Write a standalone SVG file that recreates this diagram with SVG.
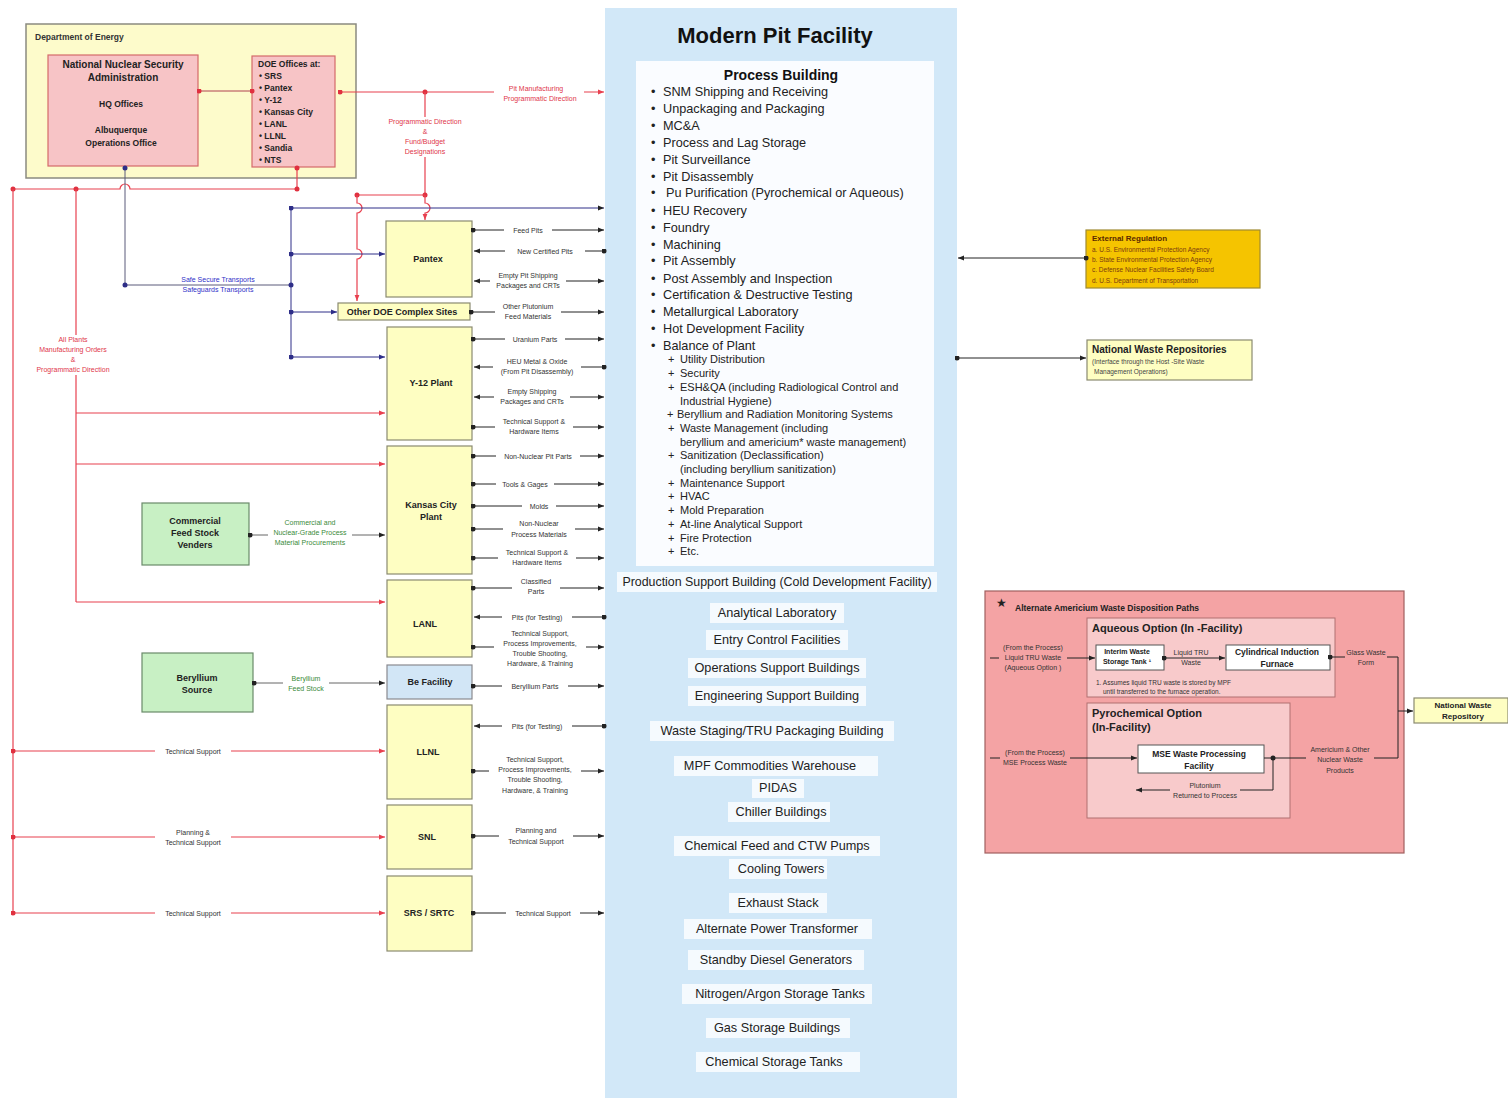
<svg xmlns="http://www.w3.org/2000/svg" width="1508" height="1098" viewBox="0 0 1508 1098">
<style>
text{font-family:"Liberation Sans",Arial,Helvetica,sans-serif;}
.k{stroke:#222;stroke-width:1;fill:none}
.r{stroke:#e8404f;stroke-width:1.2;fill:none}
.b{stroke:#2e2e88;stroke-width:1;fill:none}
.gy{stroke:#5a5a7a;stroke-width:1;fill:none}
.gr{stroke:#666;stroke-width:1;fill:none}
.ybox{fill:#fefec2;stroke:#8a8a70;stroke-width:1.2}
.pbox{fill:#f7c4c6;stroke:#d46a6a;stroke-width:1.2}
.gbox{fill:#c8f0c4;stroke:#6a8a6a;stroke-width:1.2}
.nl{font-size:9px;font-weight:bold;fill:#222;text-anchor:middle}
.lb{font-size:7px;fill:#333;text-anchor:middle}
.rl{font-size:7px;fill:#e0364a;text-anchor:middle}
.bl{font-size:7px;fill:#3030c8;text-anchor:middle}
.gl{font-size:7px;fill:#3a8a3a;text-anchor:middle}
.bgw{fill:#fff}
.bgp{fill:#f4a3a4}
.bgq{fill:#f8cacb}
.pi{font-size:12.7px;fill:#222}
.si{font-size:11px;fill:#222}
.li{font-size:12.7px;fill:#222;text-anchor:middle}
.wb{fill:#f5fafe}
</style>
<defs>
<marker id="aK" viewBox="0 0 10 10" refX="10" refY="5" markerWidth="6" markerHeight="6" markerUnits="userSpaceOnUse" orient="auto-start-reverse"><path d="M0,1L10,5L0,9z" fill="#222"/></marker>
<marker id="aR" viewBox="0 0 10 10" refX="10" refY="5" markerWidth="6" markerHeight="6" markerUnits="userSpaceOnUse" orient="auto-start-reverse"><path d="M0,1L10,5L0,9z" fill="#e8404f"/></marker>
<marker id="aB" viewBox="0 0 10 10" refX="10" refY="5" markerWidth="6" markerHeight="6" markerUnits="userSpaceOnUse" orient="auto-start-reverse"><path d="M0,1L10,5L0,9z" fill="#2e2e88"/></marker>
<marker id="dK" viewBox="0 0 10 10" refX="5" refY="5" markerWidth="5" markerHeight="5" markerUnits="userSpaceOnUse"><circle cx="5" cy="5" r="5" fill="#222"/></marker>
<marker id="dR" viewBox="0 0 10 10" refX="5" refY="5" markerWidth="5" markerHeight="5" markerUnits="userSpaceOnUse"><circle cx="5" cy="5" r="5" fill="#e0303f"/></marker>
<marker id="dB" viewBox="0 0 10 10" refX="5" refY="5" markerWidth="5" markerHeight="5" markerUnits="userSpaceOnUse"><circle cx="5" cy="5" r="5" fill="#2e2e88"/></marker>
</defs>
<rect width="1508" height="1098" fill="#fff"/>

<!-- MPF -->
<g id="mpf">
<rect x="605" y="8" width="352" height="1090" fill="#d2e8f8"/>
<text x="775" y="43" font-size="22" font-weight="bold" text-anchor="middle" fill="#111">Modern Pit Facility</text>
<rect x="636" y="61" width="298" height="505" fill="#fafcff"/>
<text x="781" y="80" font-size="14" font-weight="bold" text-anchor="middle" fill="#111">Process Building</text>
<g class="pi">
<text x="651" y="96">•</text><text x="663" y="96">SNM Shipping and Receiving</text>
<text x="651" y="113">•</text><text x="663" y="113">Unpackaging and Packaging</text>
<text x="651" y="130">•</text><text x="663" y="130">MC&amp;A</text>
<text x="651" y="147">•</text><text x="663" y="147">Process and Lag Storage</text>
<text x="651" y="164">•</text><text x="663" y="164">Pit Surveillance</text>
<text x="651" y="181">•</text><text x="663" y="181">Pit Disassembly</text>
<text x="651" y="197">•</text><text x="666" y="197">Pu Purification (Pyrochemical or Aqueous)</text>
<text x="651" y="215">•</text><text x="663" y="215">HEU Recovery</text>
<text x="651" y="232">•</text><text x="663" y="232">Foundry</text>
<text x="651" y="249">•</text><text x="663" y="249">Machining</text>
<text x="651" y="265">•</text><text x="663" y="265">Pit Assembly</text>
<text x="651" y="283">•</text><text x="663" y="283">Post Assembly and Inspection</text>
<text x="651" y="299">•</text><text x="663" y="299">Certification &amp; Destructive Testing</text>
<text x="651" y="316">•</text><text x="663" y="316">Metallurgical Laboratory</text>
<text x="651" y="333">•</text><text x="663" y="333">Hot Development Facility</text>
<text x="651" y="350">•</text><text x="663" y="350">Balance of Plant</text>
</g>
<g class="si">
<text x="668" y="363">+</text><text x="680" y="363">Utility Distribution</text>
<text x="668" y="377">+</text><text x="680" y="377">Security</text>
<text x="668" y="391">+</text><text x="680" y="391">ESH&amp;QA (including Radiological Control and</text>
<text x="680" y="405">Industrial Hygiene)</text>
<text x="667" y="418">+</text><text x="677" y="418">Beryllium and Radiation Monitoring Systems</text>
<text x="668" y="432">+</text><text x="680" y="432">Waste Management (including</text>
<text x="680" y="446">beryllium and americium* waste management)</text>
<text x="668" y="459">+</text><text x="680" y="459">Sanitization (Declassification)</text>
<text x="680" y="473">(including beryllium sanitization)</text>
<text x="668" y="487">+</text><text x="680" y="487">Maintenance Support</text>
<text x="668" y="500">+</text><text x="680" y="500">HVAC</text>
<text x="668" y="514">+</text><text x="680" y="514">Mold Preparation</text>
<text x="668" y="528">+</text><text x="680" y="528">At-line Analytical Support</text>
<text x="668" y="542">+</text><text x="680" y="542">Fire Protection</text>
<text x="668" y="555">+</text><text x="680" y="555">Etc.</text>
</g>
<rect class="wb" x="617" y="572" width="320" height="20"/>
<text x="777" y="586" font-size="12.4" text-anchor="middle" fill="#222">Production Support Building (Cold Development Facility)</text>
<rect class="wb" x="710" y="603" width="134" height="20"/><text class="li" x="777" y="617">Analytical Laboratory</text>
<rect class="wb" x="706" y="630" width="142" height="20"/><text class="li" x="777" y="644">Entry Control Facilities</text>
<rect class="wb" x="688" y="658" width="178" height="20"/><text class="li" x="777" y="672">Operations Support Buildings</text>
<rect class="wb" x="688" y="686" width="178" height="20"/><text class="li" x="777" y="700">Engineering Support Building</text>
<rect class="wb" x="650" y="721" width="244" height="20"/><text class="li" x="772" y="735">Waste Staging/TRU Packaging Building</text>
<rect class="wb" x="674" y="756" width="204" height="20"/><text class="li" x="770" y="770">MPF Commodities Warehouse</text>
<rect class="wb" x="752" y="779" width="52" height="19"/><text class="li" x="778" y="792">PIDAS</text>
<rect class="wb" x="728" y="802" width="102" height="20"/><text class="li" x="781" y="816">Chiller Buildings</text>
<rect class="wb" x="674" y="836" width="206" height="20"/><text class="li" x="777" y="850">Chemical Feed and CTW Pumps</text>
<rect class="wb" x="729" y="859" width="98" height="20"/><text class="li" x="781" y="873">Cooling Towers</text>
<rect class="wb" x="729" y="893" width="98" height="20"/><text class="li" x="778" y="907">Exhaust Stack</text>
<rect class="wb" x="684" y="919" width="188" height="20"/><text class="li" x="777" y="933">Alternate Power Transformer</text>
<rect class="wb" x="688" y="950" width="176" height="20"/><text class="li" x="776" y="964">Standby Diesel Generators</text>
<rect class="wb" x="682" y="984" width="190" height="20"/><text class="li" x="780" y="998">Nitrogen/Argon Storage Tanks</text>
<rect class="wb" x="706" y="1018" width="144" height="20"/><text class="li" x="777" y="1032">Gas Storage Buildings</text>
<rect class="wb" x="696" y="1052" width="164" height="20"/><text class="li" x="774" y="1066">Chemical Storage Tanks</text>
</g>

<!-- DOE -->
<g id="doe">
<rect x="26" y="24" width="330" height="154" fill="#fdfbcb" stroke="#8a8a80" stroke-width="1.5"/>
<text x="35" y="40" font-size="8.5" font-weight="bold" fill="#333">Department of Energy</text>
</g>
<g id="nnsa">
<rect class="pbox" x="48" y="55" width="150" height="111"/>
<text x="123" y="68" font-size="10" font-weight="bold" text-anchor="middle" fill="#222">National Nuclear Security</text>
<text x="123" y="81" font-size="10" font-weight="bold" text-anchor="middle" fill="#222">Administration</text>
<text x="121" y="107" font-size="8.5" font-weight="bold" text-anchor="middle" fill="#222">HQ Offices</text>
<text x="121" y="133" font-size="8.5" font-weight="bold" text-anchor="middle" fill="#222">Albuquerque</text>
<text x="121" y="146" font-size="8.5" font-weight="bold" text-anchor="middle" fill="#222">Operations Office</text>
</g>
<g id="doeoffices" font-size="8.5" font-weight="bold" fill="#222">
<rect class="pbox" x="252" y="56" width="83" height="111"/>
<text x="258" y="67">DOE Offices at:</text>
<text x="259" y="79">• SRS</text>
<text x="259" y="91">• Pantex</text>
<text x="259" y="103">• Y-12</text>
<text x="259" y="115">• Kansas City</text>
<text x="259" y="127">• LANL</text>
<text x="259" y="139">• LLNL</text>
<text x="259" y="151">• Sandia</text>
<text x="259" y="163">• NTS</text>
</g>

<!-- Site nodes -->
<g id="pantex"><rect class="ybox" x="386" y="221" width="86" height="76"/><text class="nl" x="428" y="262">Pantex</text></g>
<g id="otherdoe"><rect class="ybox" x="338" y="303" width="132" height="17"/><text class="nl" x="402" y="315">Other DOE Complex Sites</text></g>
<g id="y12"><rect class="ybox" x="387" y="327" width="85" height="113"/><text class="nl" x="431" y="386">Y-12 Plant</text></g>
<g id="kcp"><rect class="ybox" x="387" y="446" width="85" height="128"/><text class="nl" x="431" y="508">Kansas City</text><text class="nl" x="431" y="520">Plant</text></g>
<g id="lanl"><rect class="ybox" x="387" y="580" width="85" height="77"/><text class="nl" x="425" y="627">LANL</text></g>
<g id="befac"><rect x="387" y="665" width="85" height="34" fill="#d2e6f6" stroke="#8a8a90" stroke-width="1.2"/><text class="nl" x="430" y="685">Be Facility</text></g>
<g id="llnl"><rect class="ybox" x="387" y="705" width="85" height="94"/><text class="nl" x="428" y="755">LLNL</text></g>
<g id="snl"><rect class="ybox" x="387" y="805" width="85" height="64"/><text class="nl" x="427" y="840">SNL</text></g>
<g id="srs"><rect class="ybox" x="387" y="876" width="85" height="75"/><text class="nl" x="429" y="916">SRS / SRTC</text></g>
<g id="cfsv"><rect class="gbox" x="142" y="503" width="107" height="62"/><text class="nl" x="195" y="524">Commercial</text><text class="nl" x="195" y="536">Feed Stock</text><text class="nl" x="195" y="548">Venders</text></g>
<g id="beso"><rect class="gbox" x="142" y="653" width="111" height="59"/><text class="nl" x="197" y="681">Beryllium</text><text class="nl" x="197" y="693">Source</text></g>

<!-- External -->
<g id="extreg">
<rect x="1086" y="230" width="174" height="58" fill="#f5c400" stroke="#a08a30" stroke-width="1.2"/>
<text x="1092" y="241" font-size="8" font-weight="bold" fill="#5a2a00">External Regulation</text>
<g font-size="6.5" fill="#7a3a10">
<text x="1092" y="252">a.  U.S. Environmental Protection Agency</text>
<text x="1092" y="262">b.  State Environmental Protection Agency</text>
<text x="1092" y="272">c.  Defense Nuclear Facilities Safety Board</text>
<text x="1092" y="283">d.  U.S. Department of Transportation</text>
</g>
</g>
<g id="nwrs">
<rect class="ybox" x="1087" y="340" width="165" height="40"/>
<text x="1092" y="353" font-size="10" font-weight="bold" fill="#222">National Waste Repositories</text>
<text x="1092" y="364" font-size="6.5" fill="#444">(Interface through the Host  -Site Waste</text>
<text x="1094" y="374" font-size="6.5" fill="#444">Management Operations)</text>
</g>

<!-- Americium box -->
<g id="americium">
<rect x="985" y="591" width="419" height="262" fill="#f4a3a4" stroke="#a06060" stroke-width="1.2"/>
<text x="996" y="607" font-size="12" fill="#222">★</text>
<text x="1015" y="611" font-size="8.5" font-weight="bold" fill="#222">Alternate Americium Waste Disposition Paths</text>
</g>
<g id="aqueous">
<rect x="1087" y="618" width="248" height="79" fill="#f8cacb" stroke="#b07070" stroke-width="1"/>
<text x="1092" y="632" font-size="11" font-weight="bold" fill="#222">Aqueous Option (In -Facility)</text>
<text x="1096" y="685" font-size="6.5" fill="#333">1.  Assumes liquid TRU waste is stored by MPF</text>
<text x="1103" y="694" font-size="6.5" fill="#333">until transferred to the furnace operation.</text>
</g>
<g id="interim"><rect x="1096" y="645" width="68" height="25" fill="#fff" stroke="#555"/><text x="1127" y="654" font-size="7" font-weight="bold" text-anchor="middle" fill="#222">Interim Waste</text><text x="1127" y="664" font-size="7" font-weight="bold" text-anchor="middle" fill="#222">Storage Tank  ¹</text></g>
<g id="furnace"><rect x="1226" y="645" width="104" height="25" fill="#fff" stroke="#555"/><text x="1277" y="655" font-size="8.5" font-weight="bold" text-anchor="middle" fill="#222">Cylindrical Induction</text><text x="1277" y="667" font-size="8.5" font-weight="bold" text-anchor="middle" fill="#222">Furnace</text></g>
<g id="pyro">
<rect x="1087" y="703" width="203" height="115" fill="#f8cacb" stroke="#b07070" stroke-width="1"/>
<text x="1092" y="717" font-size="11" font-weight="bold" fill="#222">Pyrochemical  Option</text>
<text x="1092" y="731" font-size="11" font-weight="bold" fill="#222">(In-Facility)</text>
</g>
<g id="mse"><rect x="1138" y="745" width="126" height="28" fill="#fff" stroke="#555"/><text x="1199" y="757" font-size="8.5" font-weight="bold" text-anchor="middle" fill="#222">MSE Waste Processing</text><text x="1199" y="769" font-size="8.5" font-weight="bold" text-anchor="middle" fill="#222">Facility</text></g>
<g id="nwr"><rect class="ybox" x="1414" y="698" width="94" height="25"/><text x="1463" y="708" font-size="8" font-weight="bold" text-anchor="middle" fill="#222">National Waste</text><text x="1463" y="719" font-size="8" font-weight="bold" text-anchor="middle" fill="#222">Repository</text></g>

<!-- Connectors -->
<g id="connectors">
<line x1="199" y1="91" x2="252" y2="91" stroke="#b04050" stroke-width="1" marker-start="url(#dR)" marker-end="url(#dR)"/>
<line class="r" x1="340" y1="92" x2="604" y2="92" marker-start="url(#dR)" marker-end="url(#aR)"/>
<circle cx="425" cy="92" r="2.5" fill="#e0303f"/>
<path class="r" d="M425,92V195"/>
<circle cx="425" cy="195" r="2.5" fill="#e0303f"/>
<path class="r" d="M357,195H425"/>
<circle cx="357" cy="195" r="2.5" fill="#e0303f"/>
<path class="r" d="M425,195V203a5,5 0 0 1 0,10V220" marker-end="url(#aR)"/>
<path class="r" d="M357,195V203a5,5 0 0 1 0,10V249a5,5 0 0 1 0,10V301" marker-end="url(#aR)"/>
<path class="r" d="M297,168V189"/>
<circle cx="297" cy="168" r="2.5" fill="#e0303f"/>
<path class="r" d="M13,189H120a5,5 0 0 1 10,0H297"/>
<circle cx="297" cy="189" r="2.5" fill="#e0303f"/>
<circle cx="76" cy="189" r="2.5" fill="#e0303f"/>
<circle cx="13" cy="189" r="2.5" fill="#e0303f"/>
<path class="r" d="M13,189V913"/>
<path class="r" d="M76,189V602"/>
<rect class="bgw" x="31" y="335" width="84" height="40"/>
<text class="rl" x="73" y="342">All Plants</text>
<text class="rl" x="73" y="352">Manufacturing Orders</text>
<text class="rl" x="73" y="362">&amp;</text>
<text class="rl" x="73" y="372">Programmatic Direction</text>
<path class="r" d="M76,413H385" marker-end="url(#aR)"/>
<path class="r" d="M76,464H385" marker-end="url(#aR)"/>
<path class="r" d="M76,602H385" marker-end="url(#aR)"/>
<line class="r" x1="13" y1="751" x2="385" y2="751" marker-start="url(#dR)" marker-end="url(#aR)"/>
<line class="r" x1="13" y1="837" x2="385" y2="837" marker-start="url(#dR)" marker-end="url(#aR)"/>
<line class="r" x1="13" y1="913" x2="385" y2="913" marker-start="url(#dR)" marker-end="url(#aR)"/>
<rect class="bgw" x="155" y="746" width="76" height="10"/>
<text class="lb" x="193" y="754">Technical Support</text>
<rect class="bgw" x="155" y="828" width="76" height="19"/>
<text class="lb" x="193" y="835">Planning &amp;</text>
<text class="lb" x="193" y="845">Technical Support</text>
<rect class="bgw" x="155" y="908" width="76" height="10"/>
<text class="lb" x="193" y="916">Technical Support</text>
<rect class="bgw" x="494" y="84" width="90" height="20"/>
<text class="rl" x="536" y="91">Pit Manufacturing</text>
<text class="rl" x="540" y="101">Programmatic Direction</text>
<rect class="bgw" x="384" y="117" width="82" height="40"/>
<text class="rl" x="425" y="124">Programmatic Direction</text>
<text class="rl" x="425" y="134">&amp;</text>
<text class="rl" x="425" y="144">Fund/Budget</text>
<text class="rl" x="425" y="154">Designations</text>
<path class="gy" d="M125,168V285H291"/>
<circle cx="125" cy="168" r="2.5" fill="#2e2e88"/>
<circle cx="125" cy="285" r="2.5" fill="#2e2e88"/>
<path class="b" d="M291,208V357"/>
<line class="b" x1="291" y1="208" x2="604" y2="208" marker-start="url(#dB)" marker-end="url(#aK)"/>
<line class="b" x1="291" y1="254" x2="385" y2="254" marker-start="url(#dB)" marker-end="url(#aB)"/>
<circle cx="291" cy="285" r="2.5" fill="#2e2e88"/>
<line class="b" x1="291" y1="312" x2="337" y2="312" marker-start="url(#dB)" marker-end="url(#aB)"/>
<line class="b" x1="291" y1="357" x2="385" y2="357" marker-start="url(#dB)" marker-end="url(#aB)"/>
<rect class="bgw" x="176" y="286" width="84" height="9"/>
<text class="bl" x="218" y="282">Safe Secure Transports</text>
<text class="bl" x="218" y="292">Safeguards Transports</text>
<line class="gr" x1="250" y1="535" x2="385" y2="535" marker-start="url(#dK)" marker-end="url(#aK)"/>
<rect class="bgw" x="268" y="518" width="84" height="30"/>
<text class="gl" x="310" y="525">Commercial and</text>
<text class="gl" x="310" y="535">Nuclear-Grade Process</text>
<text class="gl" x="310" y="545">Material Procurements</text>
<line class="gr" x1="254" y1="683" x2="385" y2="683" marker-start="url(#dK)" marker-end="url(#aK)"/>
<rect class="bgw" x="283" y="674" width="46" height="20"/>
<text class="gl" x="306" y="681">Beryllium</text>
<text class="gl" x="306" y="691">Feed Stock</text>
<line class="k" x1="473" y1="230" x2="604" y2="230" marker-start="url(#dK)" marker-end="url(#aK)"/>
<rect class="bgw" x="504" y="226" width="48" height="9"/>
<text class="lb" x="528" y="233">Feed Pits</text>
<line class="k" x1="604" y1="251" x2="474" y2="251" marker-start="url(#dK)" marker-end="url(#aK)"/>
<rect class="bgw" x="505" y="247" width="80" height="9"/>
<text class="lb" x="545" y="254">New Certified Pits</text>
<line class="k" x1="474" y1="281" x2="604" y2="281" marker-start="url(#aK)" marker-end="url(#aK)"/>
<rect class="bgw" x="490" y="271" width="76" height="20"/>
<text class="lb" x="528" y="278">Empty Pit Shipping</text><text class="lb" x="528" y="288">Packages and CRTs</text>
<line class="k" x1="471" y1="312" x2="604" y2="312" marker-start="url(#dK)" marker-end="url(#aK)"/>
<rect class="bgw" x="495" y="302" width="66" height="20"/>
<text class="lb" x="528" y="309">Other Plutonium</text><text class="lb" x="528" y="319">Feed Materials</text>
<line class="k" x1="473" y1="339" x2="604" y2="339" marker-start="url(#dK)" marker-end="url(#aK)"/>
<rect class="bgw" x="505" y="335" width="60" height="9"/>
<text class="lb" x="535" y="342">Uranium Parts</text>
<line class="k" x1="604" y1="367" x2="474" y2="367" marker-start="url(#dK)" marker-end="url(#aK)"/>
<rect class="bgw" x="493" y="357" width="88" height="20"/>
<text class="lb" x="537" y="364">HEU Metal &amp; Oxide</text><text class="lb" x="537" y="374">(From Pit Disassembly)</text>
<line class="k" x1="474" y1="397" x2="604" y2="397" marker-start="url(#aK)" marker-end="url(#aK)"/>
<rect class="bgw" x="494" y="387" width="76" height="20"/>
<text class="lb" x="532" y="394">Empty Shipping</text><text class="lb" x="532" y="404">Packages and CRTs</text>
<line class="k" x1="473" y1="427" x2="604" y2="427" marker-start="url(#dK)" marker-end="url(#aK)"/>
<rect class="bgw" x="495" y="417" width="78" height="20"/>
<text class="lb" x="534" y="424">Technical Support &amp;</text><text class="lb" x="534" y="434">Hardware Items</text>
<line class="k" x1="473" y1="456" x2="604" y2="456" marker-start="url(#dK)" marker-end="url(#aK)"/>
<rect class="bgw" x="496" y="452" width="84" height="9"/>
<text class="lb" x="538" y="459">Non-Nuclear Pit Parts</text>
<line class="k" x1="473" y1="484" x2="604" y2="484" marker-start="url(#dK)" marker-end="url(#aK)"/>
<rect class="bgw" x="496" y="480" width="58" height="9"/>
<text class="lb" x="525" y="487">Tools &amp; Gages</text>
<line class="k" x1="473" y1="506" x2="604" y2="506" marker-start="url(#dK)" marker-end="url(#aK)"/>
<rect class="bgw" x="522" y="502" width="34" height="9"/>
<text class="lb" x="539" y="509">Molds</text>
<line class="k" x1="473" y1="529" x2="604" y2="529" marker-start="url(#dK)" marker-end="url(#aK)"/>
<rect class="bgw" x="503" y="519" width="72" height="20"/>
<text class="lb" x="539" y="526">Non-Nuclear</text><text class="lb" x="539" y="537">Process Materials</text>
<line class="k" x1="473" y1="558" x2="604" y2="558" marker-start="url(#dK)" marker-end="url(#aK)"/>
<rect class="bgw" x="498" y="548" width="78" height="20"/>
<text class="lb" x="537" y="555">Technical Support &amp;</text><text class="lb" x="537" y="565">Hardware Items</text>
<line class="k" x1="473" y1="588" x2="604" y2="588" marker-start="url(#dK)" marker-end="url(#aK)"/>
<rect class="bgw" x="512" y="577" width="48" height="20"/>
<text class="lb" x="536" y="584">Classified</text><text class="lb" x="536" y="594">Parts</text>
<line class="k" x1="604" y1="617" x2="474" y2="617" marker-start="url(#dK)" marker-end="url(#aK)"/>
<rect class="bgw" x="502" y="613" width="70" height="9"/>
<text class="lb" x="537" y="620">Pits (for Testing)</text>
<line class="k" x1="473" y1="647" x2="604" y2="647" marker-start="url(#dK)" marker-end="url(#aK)"/>
<rect class="bgw" x="494" y="629" width="92" height="40"/>
<text class="lb" x="540" y="636">Technical Support,</text><text class="lb" x="540" y="646">Process Improvements,</text><text class="lb" x="540" y="656">Trouble Shooting,</text><text class="lb" x="540" y="666">Hardware, &amp; Training</text>
<line class="k" x1="473" y1="686" x2="604" y2="686" marker-start="url(#dK)" marker-end="url(#aK)"/>
<rect class="bgw" x="502" y="682" width="66" height="9"/>
<text class="lb" x="535" y="689">Beryllium Parts</text>
<line class="k" x1="604" y1="726" x2="474" y2="726" marker-start="url(#dK)" marker-end="url(#aK)"/>
<rect class="bgw" x="502" y="722" width="70" height="9"/>
<text class="lb" x="537" y="729">Pits (for Testing)</text>
<line class="k" x1="473" y1="771" x2="604" y2="771" marker-start="url(#dK)" marker-end="url(#aK)"/>
<rect class="bgw" x="489" y="755" width="92" height="41"/>
<text class="lb" x="535" y="762">Technical Support,</text><text class="lb" x="535" y="772">Process Improvements,</text><text class="lb" x="535" y="782">Trouble Shooting,</text><text class="lb" x="535" y="793">Hardware,  &amp; Training</text>
<line class="k" x1="473" y1="836" x2="604" y2="836" marker-start="url(#dK)" marker-end="url(#aK)"/>
<rect class="bgw" x="499" y="826" width="74" height="20"/>
<text class="lb" x="536" y="833">Planning and</text><text class="lb" x="536" y="844">Technical Support</text>
<line class="k" x1="473" y1="913" x2="604" y2="913" marker-start="url(#dK)" marker-end="url(#aK)"/>
<rect class="bgw" x="506" y="909" width="74" height="9"/>
<text class="lb" x="543" y="916">Technical Support</text>
<line class="k" x1="1086" y1="258" x2="958" y2="258" marker-start="url(#dK)" marker-end="url(#aK)"/>
<line class="k" x1="957" y1="358" x2="1086" y2="358" marker-start="url(#dK)" marker-end="url(#aK)"/>
<line class="k" x1="990" y1="658" x2="1095" y2="658" marker-end="url(#aK)"/>
<rect class="bgp" x="999" y="643" width="68" height="30"/>
<text class="lb" x="1033" y="650">(From the Process)</text><text class="lb" x="1033" y="660">Liquid TRU Waste</text><text class="lb" x="1033" y="670">(Aqueous Option )</text>
<line class="k" x1="1164" y1="658" x2="1225" y2="658" marker-start="url(#dK)" marker-end="url(#aK)"/>
<rect class="bgq" x="1172" y="648" width="38" height="7"/>
<text class="lb" x="1191" y="655">Liquid TRU</text><text class="lb" x="1191" y="665">Waste</text>
<path class="k" d="M1330,657H1398V711H1413" marker-start="url(#dK)" marker-end="url(#aK)"/>
<rect class="bgp" x="1345" y="648" width="42" height="19"/>
<text class="lb" x="1366" y="655">Glass Waste</text><text class="lb" x="1366" y="665">Form</text>
<line class="k" x1="990" y1="758" x2="1137" y2="758" marker-end="url(#aK)"/>
<rect class="bgp" x="1000" y="748" width="70" height="20"/>
<text class="lb" x="1035" y="755">(From the Process)</text><text class="lb" x="1035" y="765">MSE Process Waste</text>
<path class="k" d="M1264,758H1398V711"/>
<circle cx="1273" cy="758" r="2.5" fill="#222"/>
<rect class="bgp" x="1306" y="745" width="68" height="30"/>
<text class="lb" x="1340" y="752">Americium &amp; Other</text><text class="lb" x="1340" y="762">Nuclear Waste</text><text class="lb" x="1340" y="773">Products</text>
<path class="k" d="M1273,758V790H1136" marker-end="url(#aK)"/>
<rect class="bgq" x="1170" y="781" width="70" height="20"/>
<text class="lb" x="1205" y="788">Plutonium</text><text class="lb" x="1205" y="798">Returned to Process</text>
</g>
</svg>
